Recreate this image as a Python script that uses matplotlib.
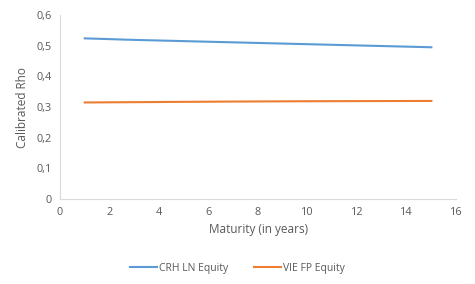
import matplotlib
matplotlib.use("Agg")
import matplotlib.pyplot as plt
from matplotlib.ticker import FuncFormatter

# maturities (years) and calibrated rho per equity
maturity = [1, 3, 5, 7, 10, 15]
crh_ln = [0.524, 0.519, 0.515, 0.511, 0.505, 0.495]
vie_fp = [0.315, 0.316, 0.317, 0.318, 0.319, 0.320]

plt.rcParams['font.family'] = ['Open Sans', 'DejaVu Sans']

fig = plt.figure(figsize=(4.75, 2.84), dpi=100)
ax = fig.add_axes([0.1263, 0.299, 0.834, 0.648])

ax.plot(maturity, crh_ln, color='#5B9BD5', lw=1.5, label='CRH LN Equity')
ax.plot(maturity, vie_fp, color='#ED7D31', lw=1.5, label='VIE FP Equity')

ax.set_xlim(0, 16)
ax.set_ylim(0, 0.6)
ax.set_xticks(range(0, 17, 2))
ax.set_yticks([0, 0.1, 0.2, 0.3, 0.4, 0.5, 0.6])
ax.yaxis.set_major_formatter(FuncFormatter(lambda v, p: '0' if v == 0 else f'{v:.1f}'.replace('.', ',')))

for s in ['top', 'right']:
    ax.spines[s].set_visible(False)
for s in ['left', 'bottom']:
    ax.spines[s].set_color('#D9D9D9')
    ax.spines[s].set_linewidth(0.8)
ax.tick_params(length=0, labelsize=7.8, colors='#595959', pad=6)

ax.set_xlabel('Maturity (in years)', fontsize=8.5, color='#595959', labelpad=3)
ax.set_ylabel('Calibrated Rho', fontsize=8.5, color='#595959', labelpad=5)

leg = fig.legend(loc='center', bbox_to_anchor=(0.5, 0.055), ncol=2, frameon=False,
                 fontsize=7.5, handlelength=2.6, columnspacing=2.5, handletextpad=0.2)
for t in leg.get_texts():
    t.set_color('#595959')

fig.savefig('out.png', dpi=100, facecolor='white')
